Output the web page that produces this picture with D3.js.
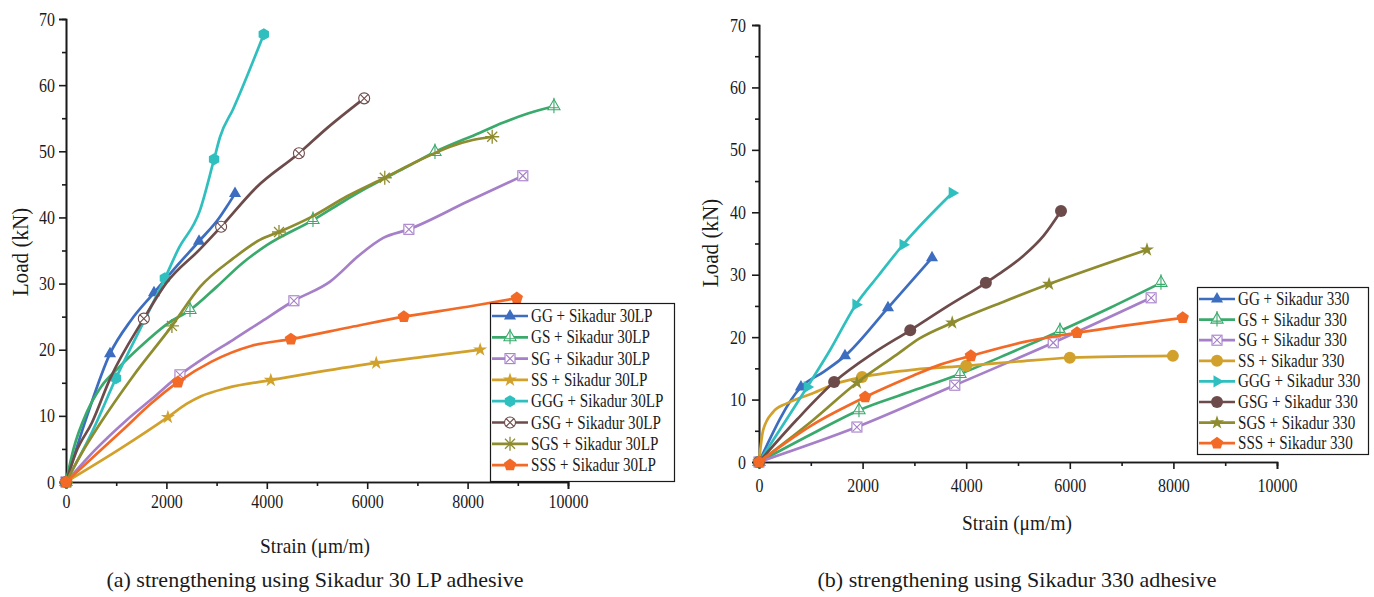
<!DOCTYPE html>
<html>
<head>
<meta charset="utf-8">
<script src="https://cdn.jsdelivr.net/npm/d3@7"></script>
<style>
  body { margin: 0; background: #fff; }
  svg text { font-family: "Liberation Serif", "Times New Roman", serif; fill: #1a1a1a; }
</style>
</head>
<body>
<svg id="chart" width="1374" height="597"></svg>
<script>
// specimen names and colours, shared by both panels
const names = ['GG', 'GS', 'SG', 'SS', 'GGG', 'GSG', 'SGS', 'SSS'];
const colors = ['#3D6DBF', '#3AAA6C', '#A67FC9', '#D1A12C', '#30BFBF', '#6E4B4B', '#8E8C2E', '#F26A26'];
const xTicks = [0, 2000, 4000, 6000, 8000, 10000];
const yTicks = [0, 10, 20, 30, 40, 50, 60, 70];

// (a) Sikadur 30 LP: [strain, load, marker?]
const lpGG = [[0, 0, 1], [420, 10], [877, 19.4, 1], [1300, 24.5], [1753, 28.6, 1], [2200, 32.6], [2650, 36.4, 1], [3050, 39.9], [3200, 41.6], [3367, 43.6, 1]];
const lpGS = [[0, 0, 1], [150, 5], [418, 10.6], [700, 14.4], [1050, 17.3], [1474, 20.4], [2072, 24.2], [2470, 26.0, 1], [3000, 29.5], [3500, 33], [4000, 35.8], [4920, 39.6, 1], [5500, 42.3], [6000, 44.5], [6800, 47.7], [7350, 49.9, 1], [8247, 52.8], [8700, 54.3], [9200, 55.7], [9720, 56.8, 1]];
const lpSG = [[0, 0, 1], [600, 5.0], [1200, 9.3], [1700, 12.5], [2270, 16.2, 1], [2800, 19], [3330, 21.5], [3900, 24.3], [4540, 27.4, 1], [5260, 30.3], [5860, 34.4], [6320, 36.9], [6830, 38.2, 1], [8000, 42.4], [9100, 46.3, 1]];
const lpSS = [[0, 0, 1], [1076, 5.0], [2030, 9.8, 1], [2400, 11.8], [2700, 13.0], [3200, 14.2], [4080, 15.4, 1], [5000, 16.6], [6180, 18.0, 1], [7200, 19.0], [8250, 20.0, 1]];
const lpGGG = [[0, 0, 1], [540, 7.9], [996, 15.7, 1], [1500, 23.5], [1970, 30.8, 1], [2230, 35.1], [2670, 41.1], [2950, 48.8, 1], [3070, 52.2], [3330, 56.4], [3940, 67.7, 1]];
const lpGSG = [[0, 0, 1], [200, 4.5], [518, 9], [877, 15.6], [1550, 24.7, 1], [2000, 30.1], [2670, 35.2], [3090, 38.6, 1], [3800, 44.6], [4640, 49.7, 1], [5200, 53.5], [5940, 58.0, 1]];
const lpSGS = [[0, 0, 1], [300, 4.2], [677, 8.8], [1335, 16.0], [2110, 23.6, 1], [2670, 29.5], [3330, 33.8], [3860, 36.6], [4243, 37.8, 1], [4920, 40.2], [5600, 43.2], [6350, 46.0, 1], [7000, 48.5], [7650, 50.7], [8100, 51.7], [8490, 52.2, 1]];
const lpSSS = [[0, 0, 1], [1135, 7.9], [1700, 11.9], [2230, 15.1, 1], [2900, 18.2], [3700, 20.6], [4480, 21.6, 1], [5660, 23.4], [6730, 25.0, 1], [8000, 26.5], [8980, 27.8, 1]];
const lpSeries = [lpGG, lpGS, lpSG, lpSS, lpGGG, lpGSG, lpSGS, lpSSS];
const lpMarkers = ['triangle', 'triangleCross', 'squareX', 'star', 'hexagon', 'circleX', 'asterisk', 'pentagon'];

// (b) Sikadur 330
const s3GG = [[0, 0, 1], [810, 12, 1], [1240, 14.4], [1660, 17.0, 1], [2490, 24.7, 1], [3340, 32.7, 1]];
const s3GS = [[0, 0, 1], [1000, 4.4], [1930, 8.3, 1], [2900, 11.2], [3880, 14.1, 1], [4800, 17.3], [5810, 21.0, 1], [6800, 24.8], [7760, 28.7, 1]];
const s3SG = [[0, 0, 1], [1890, 5.6, 1], [3780, 12.3, 1], [5680, 19.1, 1], [7570, 26.3, 1]];
const s3SS = [[0, 0, 1], [80, 5.1], [270, 8.0], [540, 9.4], [1040, 11.0], [1500, 12.6], [1990, 13.6, 1], [3000, 14.8], [4000, 15.4, 1], [5000, 16.1], [6000, 16.7, 1], [7990, 17.0, 1]];
const s3GGG = [[0, 0, 1], [930, 12, 1], [1370, 17.9], [1870, 25.2, 1], [2300, 29.8], [2780, 34.8, 1], [3730, 43.1, 1]];
const s3GSG = [[0, 0, 1], [733, 6.8], [1450, 12.8, 1], [2200, 17.4], [2920, 21.1, 1], [3650, 25], [4380, 28.7, 1], [4650, 30.2], [5100, 33], [5500, 36.3], [5830, 40.2, 1]];
const s3SGS = [[0, 0, 1], [1040, 6.7], [1890, 12.7, 1], [2660, 17.2], [3100, 19.8], [3730, 22.3, 1], [4700, 25.6], [5600, 28.5, 1], [7490, 34.0, 1]];
const s3SSS = [[0, 0, 1], [1040, 6.0], [2050, 10.4, 1], [2970, 13.8], [3500, 15.6], [4090, 17.0, 1], [5100, 19.2], [6140, 20.7, 1], [8180, 23.1, 1]];
const s3Series = [s3GG, s3GS, s3SG, s3SS, s3GGG, s3GSG, s3SGS, s3SSS];
const s3Markers = ['triangle', 'triangleCross', 'squareX', 'circle', 'triangleRight', 'circle', 'star', 'pentagon'];

const svg = d3.select('#chart');
const squeeze = 0.84; // the reference type is narrower than Liberation Serif

function polyPath (n, r, rot) {
  const pts = d3.range(n).map((i) => {
    const a = rot + i * 2 * Math.PI / n;
    return [r * Math.cos(a), r * Math.sin(a)];
  });
  return 'M' + pts.join('L') + 'Z';
}

function drawMarker (g, type, color) {
  const thin = 1.1;
  if (type === 'triangle') {
    g.append('path').attr('d', polyPath(3, 7, -Math.PI / 2)).attr('fill', color);
  } else if (type === 'triangleRight') {
    g.append('path').attr('d', polyPath(3, 7, 0)).attr('fill', color);
  } else if (type === 'triangleCross') {
    g.append('path').attr('d', polyPath(3, 7, -Math.PI / 2)).attr('fill', '#fff').attr('stroke', color).attr('stroke-width', thin);
    g.append('path').attr('d', 'M0,-8.5L0,7M-4,1.5L4,1.5').attr('stroke', color).attr('stroke-width', thin);
  } else if (type === 'squareX') {
    g.append('rect').attr('x', -5).attr('y', -5).attr('width', 10).attr('height', 10)
      .attr('fill', '#fff').attr('stroke', color).attr('stroke-width', thin);
    g.append('path').attr('d', 'M-4,-4L4,4M-4,4L4,-4').attr('stroke', color).attr('stroke-width', thin);
  } else if (type === 'circleX') {
    g.append('circle').attr('r', 5.5).attr('fill', '#fff').attr('stroke', color).attr('stroke-width', thin);
    g.append('path').attr('d', 'M-4,-4L4,4M-4,4L4,-4').attr('stroke', color).attr('stroke-width', thin);
  } else if (type === 'asterisk') {
    g.append('path').attr('d', 'M0,-7L0,7M-7,0L7,0M-5,-5L5,5M-5,5L5,-5').attr('stroke', color).attr('stroke-width', 1.3);
  } else if (type === 'star') {
    g.append('path').attr('d', d3.symbol(d3.symbolStar, 62)()).attr('fill', color);
  } else if (type === 'hexagon') {
    g.append('path').attr('d', polyPath(6, 6, Math.PI / 6)).attr('fill', color);
  } else if (type === 'pentagon') {
    g.append('path').attr('d', polyPath(5, 6.5, -Math.PI / 2)).attr('fill', color);
  } else if (type === 'circle') {
    g.append('circle').attr('r', 6).attr('fill', color);
  }
}

function addText (str, x, y, size, anchor, rotate, k) {
  return svg.append('text')
    .attr('transform', 'translate(' + x + ',' + y + ') rotate(' + rotate + ') scale(' + k + ',1)')
    .attr('text-anchor', anchor)
    .attr('font-size', size)
    .text(str);
}

function drawPanel (p) {
  const x = d3.scaleLinear().domain([0, 10000]).range([p.left, p.right]);
  const y = d3.scaleLinear().domain([0, 70]).range([p.bottom, p.top]);
  const g = svg.append('g');

  // minor ticks first, majors with labels on top
  const xMinor = d3.axisBottom(x).tickValues(d3.range(1000, 10000, 2000)).tickSize(4).tickFormat('');
  const yMinor = d3.axisLeft(y).tickValues(d3.range(5, 70, 10)).tickSize(4).tickFormat('');
  g.append('g').attr('transform', 'translate(0,' + p.bottom + ')').call(xMinor);
  g.append('g').attr('transform', 'translate(' + p.left + ',0)').call(yMinor);

  const xAxis = g.append('g').attr('transform', 'translate(0,' + p.bottom + ')')
    .call(d3.axisBottom(x).tickValues(xTicks).tickFormat(d3.format('d')).tickSize(7).tickPadding(p.xPad));
  const yAxis = g.append('g').attr('transform', 'translate(' + p.left + ',0)')
    .call(d3.axisLeft(y).tickValues(yTicks).tickSize(7).tickPadding(p.yPad));

  g.selectAll('.domain, .tick line').attr('stroke', '#1a1a1a').attr('stroke-width', 1.6);
  xAxis.selectAll('text').attr('font-size', 19).attr('transform', 'scale(' + squeeze + ',1)');
  yAxis.selectAll('text').attr('font-size', 19)
    .attr('x', -(7 + p.yPad) / squeeze)
    .attr('transform', 'scale(' + squeeze + ',1)');
  g.selectAll('.tick text').attr('font-family', null).attr('fill', '#1a1a1a');

  const line = d3.line()
    .x((d) => x(d[0]))
    .y((d) => y(d[1]))
    .curve(d3.curveMonotoneX);

  p.series.forEach((data, i) => {
    g.append('path')
      .attr('d', line(data))
      .attr('fill', 'none')
      .attr('stroke', colors[i])
      .attr('stroke-width', 2.7)
      .attr('stroke-linejoin', 'round');
    g.append('g')
      .selectAll('g')
      .data(data.filter((d) => d[2]))
      .enter()
      .append('g')
      .attr('transform', (d) => 'translate(' + x(d[0]) + ',' + y(d[1]) + ')')
      .each(function () {
        drawMarker(d3.select(this), p.markers[i], colors[i]);
      });
  });

  // legend
  const lg = g.append('g');
  lg.append('rect')
    .attr('x', p.legend.x + 0.5).attr('y', p.legend.y + 0.5)
    .attr('width', p.legend.w).attr('height', p.legend.h)
    .attr('fill', '#fff').attr('stroke', '#1a1a1a').attr('stroke-width', 1.2);
  names.forEach((name, i) => {
    const cy = p.legend.y + p.legend.first + i * p.legend.step;
    const x0 = p.legend.x + 2;
    lg.append('line')
      .attr('x1', x0).attr('x2', x0 + 36).attr('y1', cy).attr('y2', cy)
      .attr('stroke', colors[i]).attr('stroke-width', 2.7);
    drawMarker(lg.append('g').attr('transform', 'translate(' + (x0 + 18) + ',' + cy + ')'), p.markers[i], colors[i]);
    lg.append('text')
      .attr('transform', 'translate(' + (x0 + 39) + ',' + (cy + 6) + ') scale(' + squeeze + ',1)')
      .attr('font-size', p.legend.font)
      .text(name + ' + ' + p.suffix);
  });

  addText('Load (kN)', p.yTitle[0], p.yTitle[1], 23, 'middle', -90, 0.92);
  addText('Strain (\u03bcm/m)', p.xTitle[0], p.xTitle[1], 22, 'middle', 0, 0.88);
  addText(p.caption, p.capX, 587, 22, 'middle', 0, 1);
}

drawPanel({
  left: 66, right: 568, top: 19, bottom: 482,
  xPad: 6, yPad: 4,
  series: lpSeries, markers: lpMarkers, suffix: 'Sikadur 30LP',
  legend: { x: 490, y: 303, w: 184, h: 178, first: 13, step: 21.3, font: 18 },
  yTitle: [28, 252], xTitle: [315, 553],
  caption: '(a) strengthening using Sikadur 30 LP adhesive', capX: 315
});

drawPanel({
  left: 759, right: 1277, top: 25, bottom: 462,
  xPad: 10, yPad: 6,
  series: s3Series, markers: s3Markers, suffix: 'Sikadur 330',
  legend: { x: 1197, y: 287, w: 171, h: 167, first: 12, step: 20.6, font: 18 },
  yTitle: [718, 243], xTitle: [1017, 530],
  caption: '(b) strengthening using Sikadur 330 adhesive', capX: 1017
});
</script>
</body>
</html>
